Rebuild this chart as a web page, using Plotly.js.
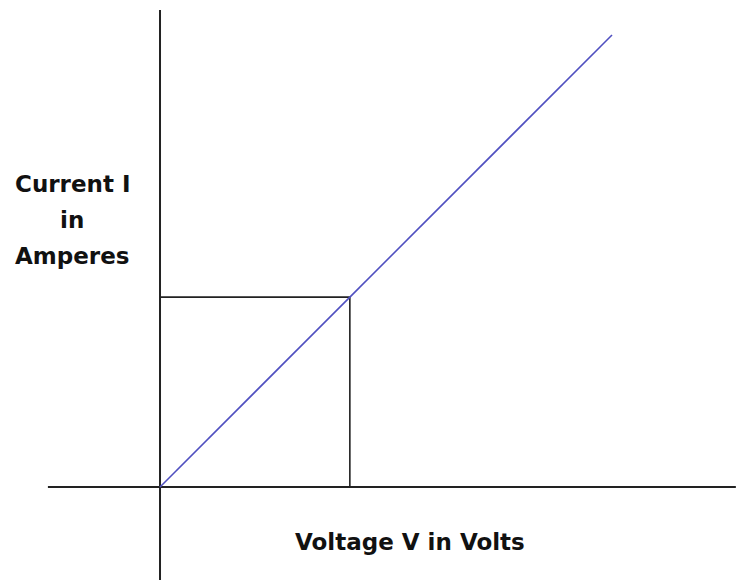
<!DOCTYPE html>
<html><head><meta charset="utf-8">
<script src="https://cdn.plot.ly/plotly-3.0.1.min.js"></script>
<style>html,body{margin:0;padding:0;background:#fff}#c{width:736px;height:582px}</style>
</head><body><div id="c"></div>
<script>
// Ohm's law sketch: current proportional to voltage
var voltage = [0, 10];
var current = [0, 10];
var markV = 4.2;
var markI = 4.2;
var xAxisExtent = [-2.48, 12.74];
var yAxisExtent = [-2.06, 10.55];
var xLabel = "Voltage V in Volts";
var yLabelLines = ["Current I", "in", "Amperes"];

var traces = [
  {x: xAxisExtent, y: [0, 0], mode: "lines", line: {color: "#222", width: 2}, hoverinfo: "skip"},
  {x: [0, 0], y: yAxisExtent, mode: "lines", line: {color: "#222", width: 2}, hoverinfo: "skip"},
  {x: [0, markV, markV], y: [markI, markI, 0], mode: "lines", line: {color: "#222", width: 1.6}, hoverinfo: "skip"},
  {x: voltage, y: current, mode: "lines", line: {color: "#5050c0", width: 1.6}}
];

var pxPerUnit = 45.2;
function dx(px){ return (px - 160) / pxPerUnit; }
function dy(py){ return (487 - py) / pxPerUnit; }
var labelFont = {family: "DejaVu Sans", size: 23, color: "#111", weight: "bold"};
var annotations = [
  {x: dx(410), y: dy(542), xref: "x", yref: "y", text: xLabel, showarrow: false, font: labelFont}
];
var yCenters = [184, 220, 256];
var xCenters = [72, 72, 72];
yLabelLines.forEach(function(t, i){
  annotations.push({x: dx(xCenters[i]), y: dy(yCenters[i]), xref: "x", yref: "y", text: t, showarrow: false, font: labelFont});
});

var layout = {
  width: 736, height: 582,
  margin: {l: 0, r: 0, t: 0, b: 0},
  paper_bgcolor: "#fff", plot_bgcolor: "#fff",
  showlegend: false,
  xaxis: {range: [-3.54, 12.743], visible: false, fixedrange: true},
  yaxis: {range: [-2.102, 10.774], visible: false, fixedrange: true},
  annotations: annotations
};

Plotly.newPlot("c", traces, layout, {displayModeBar: false, staticPlot: true});
</script></body></html>
